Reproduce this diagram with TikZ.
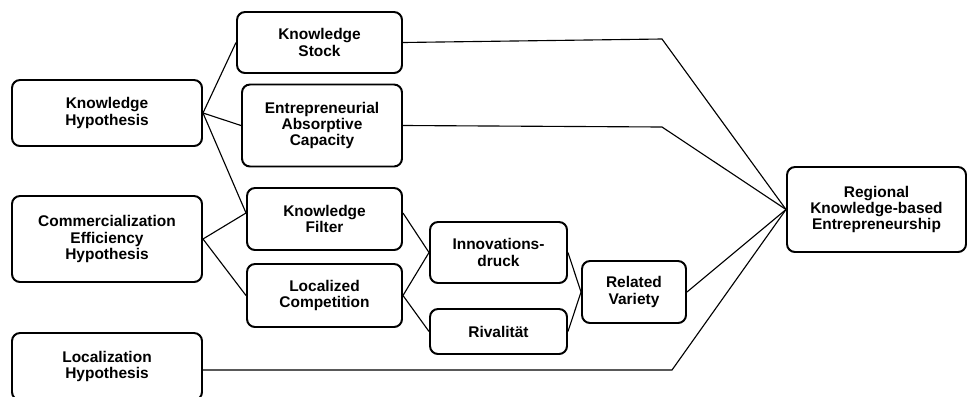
\documentclass[tikz,border=0pt]{standalone}
\usepackage{fontspec}
\setmainfont{Liberation Sans}

\begin{document}
\begin{tikzpicture}[x=0.025cm, y=-0.025cm, line width=0.8pt,
  box/.style={draw, rounded corners=0.2cm, line width=1.4pt, align=center,
    inner sep=0pt, font=\bfseries\fontsize{11}{11.6}\selectfont},
  wh/.style 2 args={minimum width=#1*0.025cm, minimum height=#2*0.025cm}]
  \useasboundingbox (0,0) rectangle (968,396);
  % hypotheses
  \node[box, wh={190}{66}] (kh) at (107,113) {Knowledge\\Hypothesis};
  \node[box, wh={190}{86}] (ceh) at (107,239) {Commercialization\\Efficiency\\Hypothesis};
  \node[box, wh={190}{67}] (lh) at (107,366.5) {Localization\\Hypothesis};
  % channels
  \node[box, wh={165}{61}] (ks) at (319.5,42.5) {Knowledge\\Stock};
  \node[box, wh={160}{82}] (eac) at (322,125.5) {Entrepreneurial\\Absorptive\\Capacity};
  \node[box, wh={155}{62}] (kf) at (324.5,219) {Knowledge\\Filter};
  \node[box, wh={155}{63}] (lc) at (324.5,295.5) {Localized\\Competition};
  \node[box, wh={137}{61}] (id) at (498.5,252.5) {Innovations-\\druck};
  \node[box, wh={137}{45}] (rv) at (498.5,331.5) {Rivalität};
  \node[box, wh={104}{62}] (relv) at (634,292) {Related\\Variety};
  \node[box, wh={179}{85}] (rke) at (876.5,209.5) {Regional\\Knowledge-based\\Entrepreneurship};
  % bends
  \coordinate (ksbend) at (662,39);
  \coordinate (eacbend) at (662,127);
  \coordinate (lhbend) at (672,370);
  % links
  \draw (kh.east) -- (ks.west);
  \draw (kh.east) -- (eac.west);
  \draw (kh.east) -- ([yshift=0.15cm]kf.west);
  \draw (ceh.east) -- ([yshift=0.15cm]kf.west);
  \draw (ceh.east) -- (lc.west);
  \draw ([yshift=0.15cm]kf.east) -- (id.west);
  \draw (lc.east) -- (id.west);
  \draw (lc.east) -- (rv.west);
  \draw (id.east) -- (relv.west);
  \draw (rv.east) -- (relv.west);
  \draw (relv.east) -- (rke.west);
  \draw (ks.east) -- (ksbend) -- (rke.west);
  \draw (eac.east) -- (eacbend) -- (rke.west);
  \draw (lh.east |- lhbend) -- (lhbend) -- (rke.west);
\end{tikzpicture}
\end{document}
